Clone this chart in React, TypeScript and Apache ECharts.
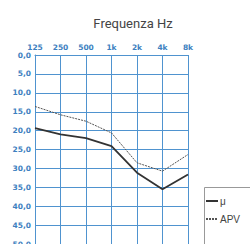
import React, { useEffect, useRef } from "react";
import * as echarts from "echarts";

const frequencies = ["125", "250", "500", "1k", "2k", "4k", "8k"];
const muValues = [19.3, 21.0, 22.0, 24.1, 31.1, 35.5, 31.6];
const apvValues = [13.6, 15.8, 17.5, 20.6, 28.5, 30.7, 26.3];
const seriesNames = ["μ", "APV"];
const axisTitle = "Frequenza Hz";

export default function App() {
  const ref = useRef<HTMLDivElement>(null);
  useEffect(() => {
    if (!ref.current) return;
    const chart = echarts.init(ref.current, null, { renderer: "svg" });
    const blue = "#4f93cf";
    const labelBlue = "#3d7fc0";
    chart.setOption({
      animation: false,
      backgroundColor: "#ffffff",
      title: {
        text: axisTitle,
        left: 128,
        textAlign: "center",
        top: 12,
        textStyle: { fontFamily: "Roboto", fontSize: 13, fontWeight: "normal", color: "#444" },
      },
      graphic: [
        {
          type: "rect",
          shape: { x: 204.5, y: 187.5, width: 80, height: 80 },
          style: { fill: "none", stroke: "#999", lineWidth: 1 },
          z: 10,
        },
      ],
      legend: {
        orient: "vertical",
        left: 205,
        top: 196,
        padding: 0,
        itemGap: 8,
        itemWidth: 12,
        itemHeight: 10,
        itemStyle: { opacity: 0 },
        textStyle: { fontFamily: "Liberation Sans", fontSize: 10, color: "#444", padding: [0, 0, 0, -3] },
        data: seriesNames,
      },
      grid: { left: 35, right: 62, top: 55, bottom: 18, containLabel: false },
      xAxis: {
        type: "category",
        position: "top",
        data: frequencies,
        boundaryGap: false,
        axisLine: { show: true, lineStyle: { color: blue, width: 1 } },
        axisTick: { show: false },
        axisLabel: { color: labelBlue, fontFamily: "DejaVu Sans", fontWeight: "bold", fontSize: 7.5, margin: 4 },
        splitLine: { show: true, lineStyle: { color: blue, width: 1 } },
      },
      yAxis: {
        type: "value",
        inverse: true,
        min: 0,
        max: 60,
        interval: 5,
        axisLine: { show: true, lineStyle: { color: blue, width: 1 } },
        axisTick: { show: false },
        axisLabel: {
          color: labelBlue,
          fontFamily: "DejaVu Sans",
          fontWeight: "bold",
          fontSize: 7.5,
          margin: 4,
          formatter: (v: number) => v.toFixed(1).replace(".", ","),
        },
        splitLine: { show: true, lineStyle: { color: blue, width: 1 } },
      },
      series: [
        {
          name: seriesNames[0],
          type: "line",
          data: muValues,
          symbol: "none",
          lineStyle: { color: "#333", width: 1.8, type: "solid" },
          itemStyle: { color: "#333" },
        },
        {
          name: seriesNames[1],
          type: "line",
          data: apvValues,
          symbol: "none",
          lineStyle: { color: "#555", width: 1, type: [2, 1] },
          itemStyle: { color: "#555" },
        },
      ],
    });
    return () => chart.dispose();
  }, []);
  return (
    <div
      ref={ref}
      style={{ position: "fixed", left: 0, top: 0, width: 250, height: 300 }}
    />
  );
}
